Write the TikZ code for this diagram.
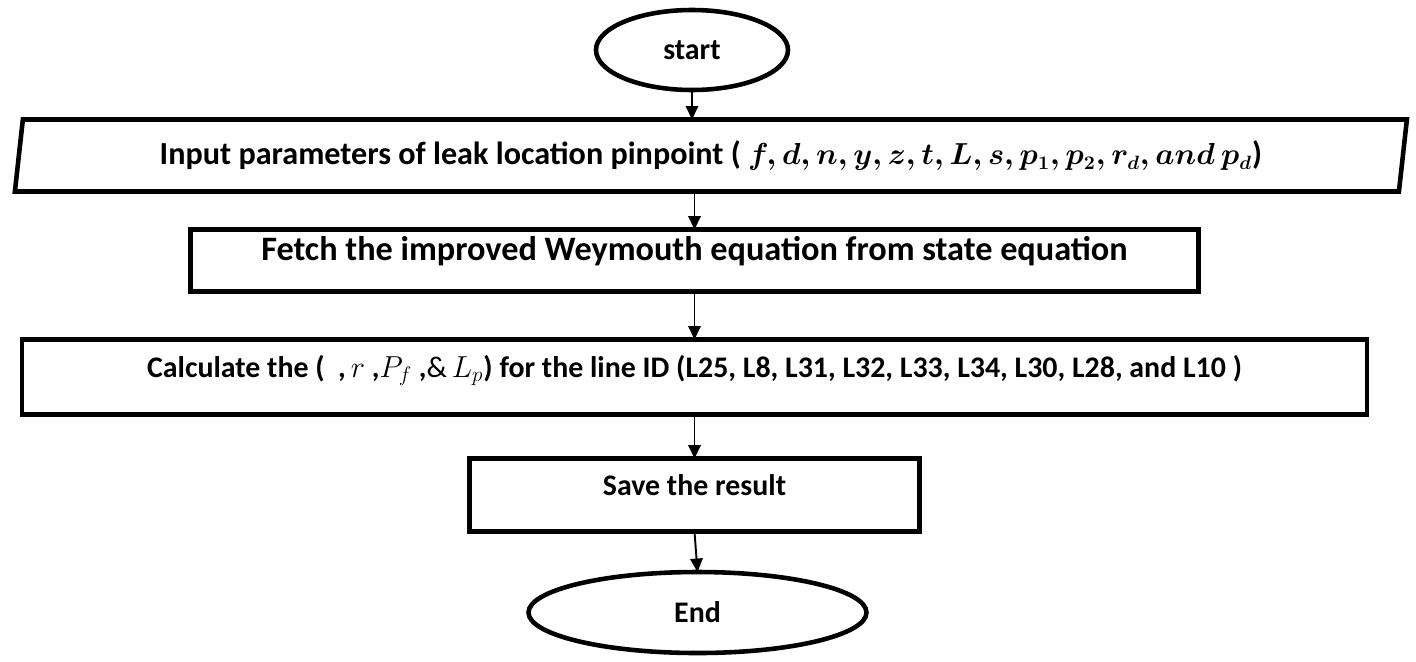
\documentclass[tikz,border=0pt]{standalone}
\usepackage{amsmath}
\usepackage{fontspec}
\setmainfont{Carlito}
\usetikzlibrary{arrows.meta,positioning,shapes.geometric}

\begin{document}
\begin{tikzpicture}[
  font=\fontsize{17}{20}\selectfont\bfseries,
  term/.style={draw,ellipse,line width=2.6pt,inner sep=0pt,outer sep=0pt},
  inbox/.style={draw,trapezium,trapezium left angle=75,trapezium right angle=105,
    trapezium stretches body,line width=2.6pt,inner sep=0pt,outer sep=0pt,minimum height=14.4mm},
  proc/.style={draw,rectangle,line width=2.6pt,inner sep=0pt,outer sep=0pt,text height=4.5mm,text depth=4.5mm},
  arr/.style={-{Triangle[length=2.7mm,width=2.5mm]},line width=1.1pt}
]
\useasboundingbox (-13.84,1.0) rectangle (14.48,-12.22);

\node[term,minimum width=38.4mm,minimum height=16mm] (start) {start};
\node[inbox,below=5.9mm of start,xshift=3.8mm,minimum width=278.4mm,font=\fontsize{18.3}{22}\selectfont\bfseries] (input)
  {Input parameters of leak location pinpoint ( {\fontsize{16}{19}\selectfont\boldmath$f, d, n, y, z, t, L, s, p_1, p_2, r_d, and\ p_d$})};
\node[proc,below=7.6mm of input,xshift=-3.3mm,minimum width=201.6mm,minimum height=12.4mm,
  font=\fontsize{19.5}{23}\selectfont\bfseries] (fetch)
  {Fetch the improved Weymouth equation from state equation};
\node[proc,below=9.6mm of fetch,minimum width=269mm,minimum height=15mm] (calc)
  {Calculate the (\ \ ,$\,r$ ,$P_f$ ,$\&\,L_p$) for the line ID (L25, L8, L31, L32, L33, L34, L30, L28, and L10 )};
\node[proc,below=8.8mm of calc,minimum width=90mm,minimum height=14.6mm] (save) {Save the result};
\node[term,below=8.1mm of save,xshift=0.6mm,minimum width=67.6mm,minimum height=16.2mm] (stop) {End};

% arrows between the steps
\draw[arr] (start.south) -- (start.south |- input.north);
\draw[arr] (fetch.north |- input.south) -- (fetch.north);
\draw[arr] (fetch.south) -- (fetch.south |- calc.north);
\draw[arr] (calc.south) -- (save.north);
\draw[arr] (save.south) -- (stop.north);
\end{tikzpicture}
\end{document}
